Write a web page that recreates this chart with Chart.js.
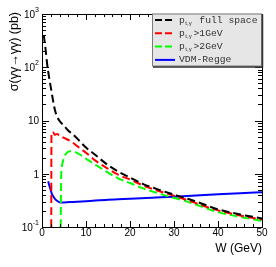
<!DOCTYPE html>
<html>
<head>
<meta charset="utf-8">
<script src="https://cdn.jsdelivr.net/npm/chart.js@4"></script>
<style>
  html, body { margin: 0; padding: 0; background: #fff; }
  #wrap { width: 276px; height: 267px; position: relative; }
</style>
</head>
<body>
<div id="wrap"><canvas id="c"></canvas></div>
<script>
// W (GeV) and sigma (pb)
const wBlack = [0.4, 0.8, 1.2, 1.6, 2, 2.5, 3, 3.5, 4, 5, 6, 7, 8, 10, 12, 15, 17.5, 20, 23, 26, 29, 32, 35, 40, 45, 50];
const sBlack = [400, 220, 110, 65, 42, 24, 15, 11.5, 9.8, 8, 6.4, 5.5, 4.6, 3.1, 2.3, 1.45, 1.08, 0.85, 0.64, 0.52, 0.43, 0.36, 0.3, 0.215, 0.172, 0.145];

const wRed = [2.1, 2.15, 2.5, 2.9, 3.4, 4, 5, 6.7, 8, 10.5, 12, 14.3, 17.3, 20, 23, 26, 29, 33, 40, 45, 50];
const sRed = [0.1, 6.0, 6.0, 5.4, 5.6, 5.2, 4.7, 4.0, 3.3, 2.3, 1.8, 1.35, 0.96, 0.78, 0.6, 0.49, 0.41, 0.32, 0.205, 0.165, 0.138];

const wGreen = [4.25, 4.35, 4.55, 5.0, 5.5, 6.3, 7.5, 9, 10.5, 12, 14.3, 17.3, 20, 23, 26, 29, 33, 40, 45, 50];
const sGreen = [0.1, 0.8, 1.4, 2.0, 2.4, 2.65, 2.55, 2.2, 1.8, 1.5, 1.14, 0.82, 0.67, 0.53, 0.44, 0.37, 0.3, 0.19, 0.155, 0.13];

const wBlue = [1.4, 1.8, 2.2, 2.8, 3.4, 4.1, 5, 7, 10, 15, 20, 25, 30, 35, 40, 45, 50];
const sBlue = [0.72, 0.55, 0.43, 0.35, 0.31, 0.29, 0.29, 0.295, 0.305, 0.325, 0.34, 0.355, 0.37, 0.39, 0.41, 0.43, 0.45];

const xTicks = [0, 10, 20, 30, 40, 50];
const yTicks = [0.1, 1, 10, 100, 1000];
const yTickLabels = [["10", "-1"], ["1", ""], ["10", ""], ["10", "2"], ["10", "3"]];

// legend: [main, subscript, rest]
const legendText = [
  ["p", "t,\u03b3", " full space"],
  ["p", "t,\u03b3", ">1GeV"],
  ["p", "t,\u03b3", ">2GeV"],
  ["VDM-Regge", "", ""],
];

const toPts = (xs, ys) => xs.map((x, i) => ({ x, y: ys[i] }));

const series = [
  { data: toPts(wBlack, sBlack), color: "#000000", dash: [8, 4] },
  { data: toPts(wRed, sRed), color: "#ff0000", dash: [8, 4] },
  { data: toPts(wGreen, sGreen), color: "#00ff00", dash: [8, 4] },
  { data: toPts(wBlue, sBlue), color: "#0000ff", dash: [] },
];

const rootPlugin = {
  id: "root",
  afterDraw(chart) {
    const ctx = chart.ctx;
    const { left, right, top, bottom } = chart.chartArea;
    const xs = chart.scales.x, ys = chart.scales.y;
    ctx.save();

    // frame
    ctx.strokeStyle = "#000";
    ctx.lineWidth = 1;
    ctx.strokeRect(Math.round(left) + 0.5, Math.round(top) + 0.5, Math.round(right - left), Math.round(bottom - top));

    // x ticks, inside, bottom and top
    ctx.beginPath();
    for (let v = 0; v <= 50; v += 2) {
      const px = Math.round(xs.getPixelForValue(v)) + 0.5;
      const len = v % 10 === 0 ? 6 : 3;
      ctx.moveTo(px, bottom); ctx.lineTo(px, bottom - len);
      ctx.moveTo(px, top); ctx.lineTo(px, top + len);
    }
    // y ticks, log minor
    for (let d = 0.1; d < 1000; d *= 10) {
      for (let k = 1; k <= 10; k++) {
        const v = d * k;
        if (v > 1000.0001) break;
        const py = Math.round(ys.getPixelForValue(v)) + 0.5;
        const len = (k === 1 || k === 10) ? 7 : 4;
        ctx.moveTo(left, py); ctx.lineTo(left + len, py);
        ctx.moveTo(right, py); ctx.lineTo(right - len, py);
      }
    }
    ctx.stroke();

    // y tick labels with superscripts
    ctx.fillStyle = "#000";
    ctx.textBaseline = "middle";
    yTicks.forEach((v, i) => {
      const py = ys.getPixelForValue(v);
      const [base, exp] = yTickLabels[i];
      ctx.font = "7px 'Liberation Sans', Arial, sans-serif";
      const ew = exp ? ctx.measureText(exp).width : 0;
      ctx.font = "10px 'Liberation Sans', Arial, sans-serif";
      const bw = ctx.measureText(base).width;
      const xEnd = left - 3;
      ctx.textAlign = "left";
      ctx.fillText(base, xEnd - ew - bw, py + 1);
      if (exp) {
        ctx.font = "7px 'Liberation Sans', Arial, sans-serif";
        ctx.fillText(exp, xEnd - ew, py - 4);
      }
    });

    // axis titles
    ctx.font = "12px 'Liberation Sans', Arial, sans-serif";
    ctx.textAlign = "right";
    ctx.textBaseline = "alphabetic";
    ctx.fillText("W (GeV)", right, 252);
    ctx.save();
    ctx.translate(17.5, top - 2);
    ctx.rotate(-Math.PI / 2);
    ctx.font = "12.5px 'Liberation Sans', Arial, sans-serif";
    ctx.fillText("\u03c3(\u03b3\u03b3\u2192\u03b3\u03b3) (pb)", 0, 0);
    ctx.restore();

    // legend box
    const lx = 152, ly = 13.5, lw = 110, lh = 53;
    ctx.fillStyle = "#e6e6e6";
    ctx.fillRect(lx, ly, lw, lh);
    ctx.strokeStyle = "#7a7a7a";
    ctx.lineWidth = 1;
    ctx.strokeRect(lx + 0.5, ly + 0.5, lw - 1, lh - 1);
    ctx.strokeStyle = "#333";
    ctx.lineWidth = 1.5;
    ctx.beginPath();
    ctx.moveTo(lx + 1, ly + lh + 0.5); ctx.lineTo(lx + lw + 0.5, ly + lh + 0.5); ctx.lineTo(lx + lw + 0.5, ly + 1);
    ctx.stroke();

    const mono = "'Liberation Mono', 'DejaVu Sans Mono', monospace";
    legendText.forEach((parts, i) => {
      const ry = 20 + i * 13.3;
      const s = series[i];
      ctx.strokeStyle = s.color;
      ctx.lineWidth = 2;
      ctx.setLineDash(s.dash.length ? [7, 3] : []);
      ctx.beginPath();
      ctx.moveTo(155, ry); ctx.lineTo(175, ry);
      ctx.stroke();
      ctx.setLineDash([]);
      ctx.fillStyle = "#333";
      ctx.textAlign = "left";
      ctx.textBaseline = "middle";
      ctx.font = "9.7px " + mono;
      let x = 179;
      ctx.fillText(parts[0], x, ry);
      x += ctx.measureText(parts[0]).width;
      if (parts[1]) {
        ctx.font = "6px 'Liberation Sans', Arial, sans-serif";
        ctx.fillText(parts[1], x + 0.5, ry + 3);
        x = 193.5;
        ctx.font = "9.7px " + mono;
      }
      if (parts[2]) ctx.fillText(parts[2], x, ry);
    });

    ctx.restore();
  },
};

new Chart(document.getElementById("c"), {
  type: "line",
  data: {
    datasets: series.map((s) => ({
      data: s.data,
      borderColor: s.color,
      borderWidth: 2,
      borderDash: s.dash,
      pointRadius: 0,
      fill: false,
      cubicInterpolationMode: "monotone",
    })),
  },
  options: {
    responsive: true,
    maintainAspectRatio: false,
    animation: false,
    events: [],
    layout: { padding: { left: 0, right: 14, top: 14, bottom: 0 } },
    plugins: { legend: { display: false }, tooltip: { enabled: false } },
    scales: {
      x: {
        type: "linear",
        min: 0,
        max: 50,
        grid: { display: false, drawTicks: false },
        border: { display: false },
        afterBuildTicks: (sc) => { sc.ticks = xTicks.map((v) => ({ value: v })); },
        afterFit: (sc) => { sc.height = 40; },
        ticks: {
          color: "#000",
          padding: 0,
          maxRotation: 0,
          font: { family: "'Liberation Sans', Arial, sans-serif", size: 10 },
        },
      },
      y: {
        type: "logarithmic",
        min: 0.1,
        max: 1000,
        grid: { display: false, drawTicks: false },
        border: { display: false },
        afterFit: (sc) => { sc.width = 42; },
        ticks: { display: false },
      },
    },
  },
  plugins: [rootPlugin],
});
</script>
</body>
</html>
